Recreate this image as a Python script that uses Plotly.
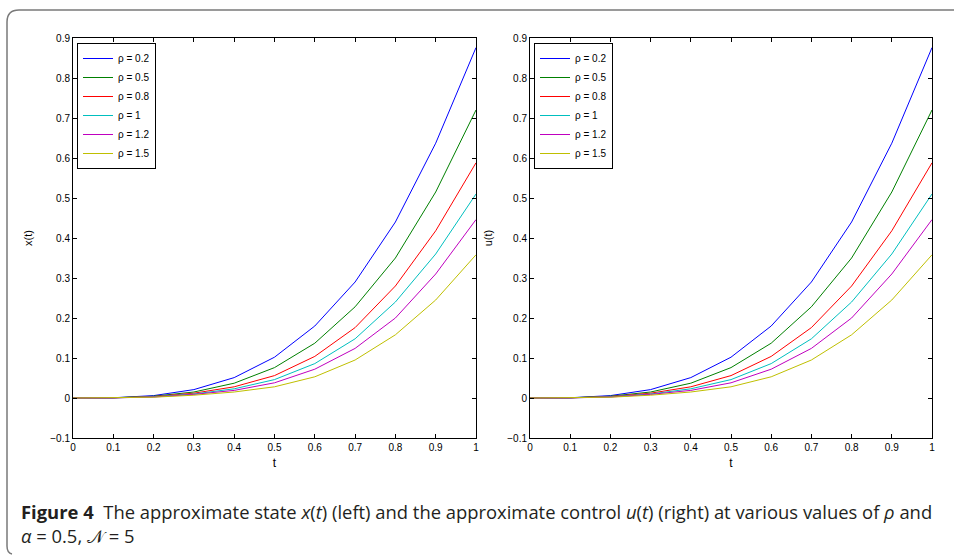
import plotly.graph_objects as go

W, H = 954, 556

t = [0, 0.1, 0.2, 0.3, 0.4, 0.5, 0.6, 0.7, 0.8, 0.9, 1.0]
rho_labels = ["ρ = 0.2", "ρ = 0.5", "ρ = 0.8", "ρ = 1", "ρ = 1.2", "ρ = 1.5"]
colors = ["#0000FF", "#008000", "#FF0000", "#00BFBF", "#BF00BF", "#BFBF00"]

x_rho02 = [0, 0.0006, 0.006, 0.021, 0.051, 0.102, 0.180, 0.290, 0.440, 0.637, 0.876]
x_rho05 = [0, 0.0005, 0.0045, 0.015, 0.037, 0.076, 0.137, 0.228, 0.350, 0.515, 0.720]
x_rho08 = [0, 0.0004, 0.0035, 0.012, 0.028, 0.056, 0.104, 0.176, 0.280, 0.418, 0.588]
x_rho10 = [0, 0.0003, 0.003, 0.010, 0.023, 0.046, 0.086, 0.148, 0.240, 0.360, 0.510]
x_rho12 = [0, 0.0003, 0.0025, 0.009, 0.019, 0.038, 0.072, 0.124, 0.200, 0.310, 0.446]
x_rho15 = [0, 0.0002, 0.002, 0.007, 0.015, 0.028, 0.053, 0.095, 0.158, 0.245, 0.358]

u_rho02 = [0, 0.0006, 0.006, 0.021, 0.051, 0.102, 0.180, 0.290, 0.440, 0.637, 0.876]
u_rho05 = [0, 0.0005, 0.0045, 0.015, 0.037, 0.076, 0.137, 0.228, 0.350, 0.515, 0.720]
u_rho08 = [0, 0.0004, 0.0035, 0.012, 0.028, 0.056, 0.104, 0.176, 0.280, 0.418, 0.588]
u_rho10 = [0, 0.0003, 0.003, 0.010, 0.023, 0.046, 0.086, 0.148, 0.240, 0.360, 0.510]
u_rho12 = [0, 0.0003, 0.0025, 0.009, 0.019, 0.038, 0.072, 0.124, 0.200, 0.310, 0.446]
u_rho15 = [0, 0.0002, 0.002, 0.007, 0.015, 0.028, 0.053, 0.095, 0.158, 0.245, 0.358]

x_series = [x_rho02, x_rho05, x_rho08, x_rho10, x_rho12, x_rho15]
u_series = [u_rho02, u_rho05, u_rho08, u_rho10, u_rho12, u_rho15]

x_ticks = [0, 0.1, 0.2, 0.3, 0.4, 0.5, 0.6, 0.7, 0.8, 0.9, 1]
x_ticktext = ["0", "0.1", "0.2", "0.3", "0.4", "0.5", "0.6", "0.7", "0.8", "0.9", "1"]
y_ticks = [-0.1, 0, 0.1, 0.2, 0.3, 0.4, 0.5, 0.6, 0.7, 0.8, 0.9]
y_ticktext = ["\u22120.1", "0", "0.1", "0.2", "0.3", "0.4", "0.5", "0.6", "0.7", "0.8", "0.9"]

fig = go.Figure()

for name, col, ys in zip(rho_labels, colors, x_series):
    fig.add_trace(go.Scatter(x=t, y=ys, mode="lines", name=name,
                             line=dict(color=col, width=1),
                             xaxis="x", yaxis="y", legend="legend"))
for name, col, ys in zip(rho_labels, colors, u_series):
    fig.add_trace(go.Scatter(x=t, y=ys, mode="lines", name=name,
                             line=dict(color=col, width=1),
                             xaxis="x2", yaxis="y2", legend="legend2"))

FAM = "Liberation Sans, Arial, sans-serif"
axfont = dict(family=FAM, size=10, color="#000")

def xaxis(domain, anchor):
    return dict(domain=domain, anchor=anchor, range=[0, 1], tickvals=x_ticks, ticktext=x_ticktext,
                ticks="inside", ticklen=4, tickcolor="#000", showline=True, linecolor="#000",
                linewidth=1, mirror="ticks", showgrid=False, zeroline=False, tickfont=axfont,
                title=dict(text="t", font=dict(family=FAM, size=12, color="#000"), standoff=6))

def yaxis(domain, anchor, title, standoff):
    return dict(domain=domain, anchor=anchor, range=[-0.1, 0.9], tickvals=y_ticks, ticktext=y_ticktext,
                ticks="inside", ticklen=4, tickcolor="#000", showline=True, linecolor="#000",
                linewidth=1, mirror="ticks", showgrid=False, zeroline=False, tickfont=axfont,
                title=dict(text=title, font=dict(family=FAM, size=11, color="#000"), standoff=standoff))

ydom = [1 - 438 / H, 1 - 38 / H]
legfont = dict(family=FAM, size=10, color="#000")

fig.update_layout(
    width=W, height=H,
    margin=dict(l=0, r=0, t=0, b=0, autoexpand=False),
    paper_bgcolor="white", plot_bgcolor="white",
    xaxis=xaxis([73 / W, 476 / W], "y"),
    yaxis=yaxis(ydom, "x", "x(t)", 15),
    xaxis2=xaxis([530 / W, 932 / W], "y2"),
    yaxis2=yaxis(ydom, "x2", "u(t)", 12),
    legend=dict(x=77 / W, y=1 - 43 / H, xanchor="left", yanchor="top", bgcolor="white",
                bordercolor="#000", borderwidth=1, font=legfont, itemwidth=30,
                tracegroupgap=0),
    legend2=dict(x=534 / W, y=1 - 43 / H, xanchor="left", yanchor="top", bgcolor="white",
                 bordercolor="#000", borderwidth=1, font=legfont, itemwidth=30,
                 tracegroupgap=0),
    showlegend=True,
)

# rounded frame (open on the right)
r = 12
frame = (f"M 1 {1 - 10 / H} L {(7 + r) / W} {1 - 10 / H} "
         f"Q {7 / W} {1 - 10 / H} {7 / W} {1 - (10 + r) / H} "
         f"L {7 / W} {1 - 546 / H} Q {7 / W} {1 - 553 / H} {12 / W} {1 - 554 / H}")
fig.add_shape(type="path", path=frame, xref="paper", yref="paper",
              line=dict(color="#7a7a7a", width=1.5))

caption = ("<b>Figure 4</b>  The approximate state <i>x</i>(<i>t</i>) (left) and the approximate control "
           "<i>u</i>(<i>t</i>) (right) at various values of <i>ρ</i> and<br>"
           "<i>α</i> = 0.5, 𝒩 = 5")
fig.add_annotation(text=caption, xref="paper", yref="paper", x=19 / W, y=1 - 497 / H,
                   xanchor="left", yanchor="top", align="left", showarrow=False,
                   font=dict(family="Open Sans, Noto Sans, sans-serif", size=18.4, color="#231f20"))

fig.write_html("out.html", config={"displayModeBar": False},
               post_script="document.body.style.margin='0';document.body.style.overflow='hidden';")
